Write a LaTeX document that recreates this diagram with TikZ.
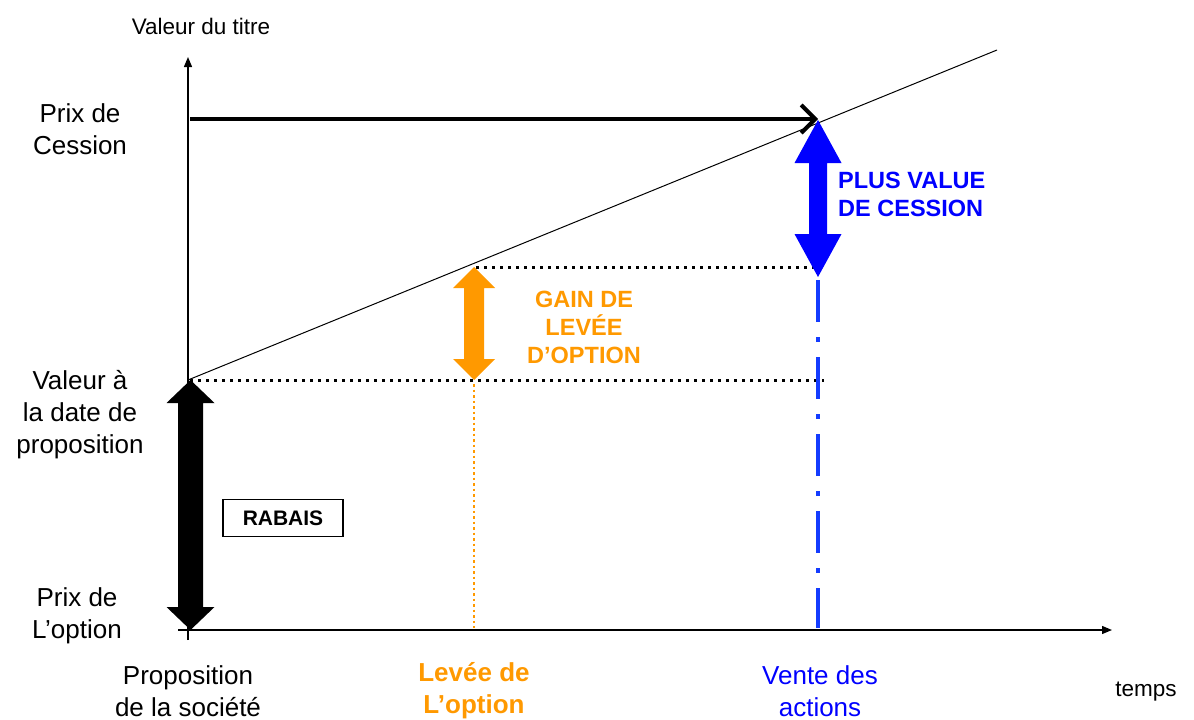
\documentclass[tikz,border=0pt]{standalone}
\usepackage{fontspec}
\setmainfont{Liberation Sans}
\usetikzlibrary{arrows.meta}
\definecolor{myorange}{RGB}{255,153,0}
\definecolor{myblue}{RGB}{0,0,255}
\definecolor{dashblue}{RGB}{20,60,255}
\newcommand\dblarr[7]{%
 \fill[#7] (#1,#2) -- ({#1+#5/2},{#2+#6}) -- ({#1+#4/2},{#2+#6}) -- ({#1+#4/2},{#3-#6}) -- ({#1+#5/2},{#3-#6}) -- (#1,#3) -- ({#1-#5/2},{#3-#6}) -- ({#1-#4/2},{#3-#6}) -- ({#1-#4/2},{#2+#6}) -- ({#1-#5/2},{#2+#6}) -- cycle;}
\begin{document}
\begin{tikzpicture}[x=1pt,y=-1pt,
  lbl/.style={font=\fontsize{26}{32}\selectfont, align=center, inner sep=0pt},
  bld/.style={font=\fontsize{23.5}{28}\selectfont\bfseries, align=center, inner sep=0pt},
  axis/.style={line width=1.3pt, -{Triangle[length=10pt,width=8pt]}},
  dotl/.style={line width=3pt, dash pattern=on 3pt off 5pt},
]
\useasboundingbox[fill=white] (0,0) rectangle (1194,720);
% axes
\coordinate (O) at (188,630);
\coordinate (ytop) at (188,57);
\coordinate (xl) at (178,630);
\coordinate (xend) at (1112,630);
\draw[axis] (188,640) -- (ytop);
\draw[axis] (xl) -- (xend);
% dotted lines
\coordinate (d1a) at (190,380);
\coordinate (d1b) at (824,380);
\coordinate (d2a) at (476,267);
\coordinate (d2b) at (818,267);
\draw[dotl] (d1a) -- (d1b);
\draw[dotl] (d2a) -- (d2b);
% orange dotted vertical
\coordinate (ov1) at (474,384);
\coordinate (ov2) at (474,628);
\draw[myorange, line width=2.2pt, dash pattern=on 2.5pt off 3pt] (ov1) -- (ov2);
% blue dash-dot vertical
\coordinate (bv1) at (818,280);
\coordinate (bv2) at (818,628);
\draw[dashblue, line width=4.5pt, dash pattern=on 42pt off 15pt on 5pt off 15pt] (bv1) -- (bv2);
% diagonal
\coordinate (g1) at (188,380);
\coordinate (g2) at (997,50);
\draw[line width=1pt] (g1) -- (g2);
% black horizontal arrow
\coordinate (h1) at (190,119);
\coordinate (h2) at (818,119);
\draw[line width=4pt, -{Straight Barb[length=14pt,width=28pt]}] (h1) -- (h2);
% block arrows
\dblarr{190.5}{380}{630}{25}{48}{23}{black}
\dblarr{474}{267}{380}{20}{42}{21}{myorange}
\dblarr{818}{120}{277}{18}{47}{43}{myblue}
% texts
\node[font=\fontsize{22.5}{27}\selectfont, inner sep=0pt] (vt) at (201,26) {Valeur du titre};
\node[lbl] (pc) at (80,129) {Prix de\\Cession};
\node[lbl] (vd) at (80,415) {Valeur à\\la date de\\proposition};
\node[lbl] (po) at (77,616) {Prix de\\L’option};
\node[lbl] (ps) at (188,691) {Proposition\\de la société};
\node[lbl, font=\fontsize{26}{32}\selectfont\bfseries, text=myorange] (lo) at (474,691) {Levée de\\L’option};
\node[lbl, text=myblue] (va) at (820,691) {Vente des\\actions};
\node[font=\fontsize{22.5}{27}\selectfont, inner sep=0pt] (tp) at (1146,692) {temps};
\node[bld, text=myorange] (gain) at (584,327) {GAIN DE\\LEVÉE\\D’OPTION};
\node[bld, text=myblue, align=left, anchor=west] (pv) at (838,194) {PLUS VALUE\\DE CESSION};
\node[draw, line width=1.3pt, font=\fontsize{21}{25}\selectfont\bfseries, minimum width=120pt, minimum height=37pt, inner sep=0pt] (rb) at (283,518) {RABAIS};
\end{tikzpicture}
\end{document}
